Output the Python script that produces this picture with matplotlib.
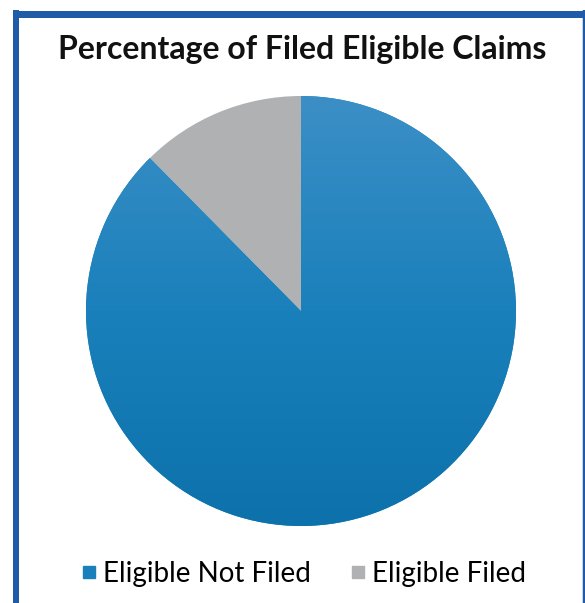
import numpy as np
import matplotlib
matplotlib.use("Agg")
import matplotlib.pyplot as plt
from matplotlib.lines import Line2D
from matplotlib.colors import LinearSegmentedColormap

labels = ["Eligible Not Filed", "Eligible Filed"]
shares = [87.6, 12.4]
colors = ["#1a80bb", "#b0b1b3"]

W, H = 585, 603
fig = plt.figure(figsize=(W / 100, H / 100), dpi=100)
fig.patch.set_facecolor("white")

# blue frame (left, top, right)
border = "#1f5ba6"
fig.add_artist(Line2D([16 / W, 16 / W], [0, 1 - 10 / H], transform=fig.transFigure,
                      color=border, lw=6 * 0.72, solid_capstyle="butt"))
fig.add_artist(Line2D([13 / W, 585 / W], [1 - 13.5 / H, 1 - 13.5 / H], transform=fig.transFigure,
                      color=border, lw=7 * 0.72, solid_capstyle="butt"))
fig.add_artist(Line2D([584 / W, 584 / W], [0, 1 - 10 / H], transform=fig.transFigure,
                      color=border, lw=2.5 * 0.72, solid_capstyle="butt"))

cx, cy, r = 301, 311, 215
ax = fig.add_axes([(cx - r) / W, (H - cy - r) / H, 2 * r / W, 2 * r / H])
wedges, _ = ax.pie(shares, colors=colors, startangle=90, counterclock=False,
                   radius=1, wedgeprops=dict(linewidth=0))
ax.set_xlim(-1, 1)
ax.set_ylim(-1, 1)
ax.set_aspect("equal")
ax.axis("off")

# vertical gradient on the blue slice
cmap = LinearSegmentedColormap.from_list("blu", ["#0d72ab", "#1a80bb", "#3c8fc6"])
grad = np.linspace(0, 1, 256).reshape(-1, 1)
img = ax.imshow(grad, extent=[-1, 1, -1, 1], origin="lower", cmap=cmap,
                aspect="auto", zorder=wedges[0].get_zorder() + 0.1)
img.set_clip_path(wedges[0])

fig.text(302 / W, 1 - 49 / H, "Percentage of Filed Eligible Claims",
         ha="center", va="center", fontsize=23, fontweight="bold",
         family=["Lato", "DejaVu Sans"], color="#111111")

handles = [Line2D([], [], marker="s", ls="none", markersize=9, color=c) for c in colors]
fig.legend(handles, labels, loc="center", bbox_to_anchor=(304 / W, 1 - 574 / H),
           ncol=2, frameon=False, handletextpad=0.25, columnspacing=1.45,
           handlelength=0.5, borderpad=0, prop=dict(family=["Lato", "DejaVu Sans"], size=20))

fig.savefig("out.png", dpi=100)
